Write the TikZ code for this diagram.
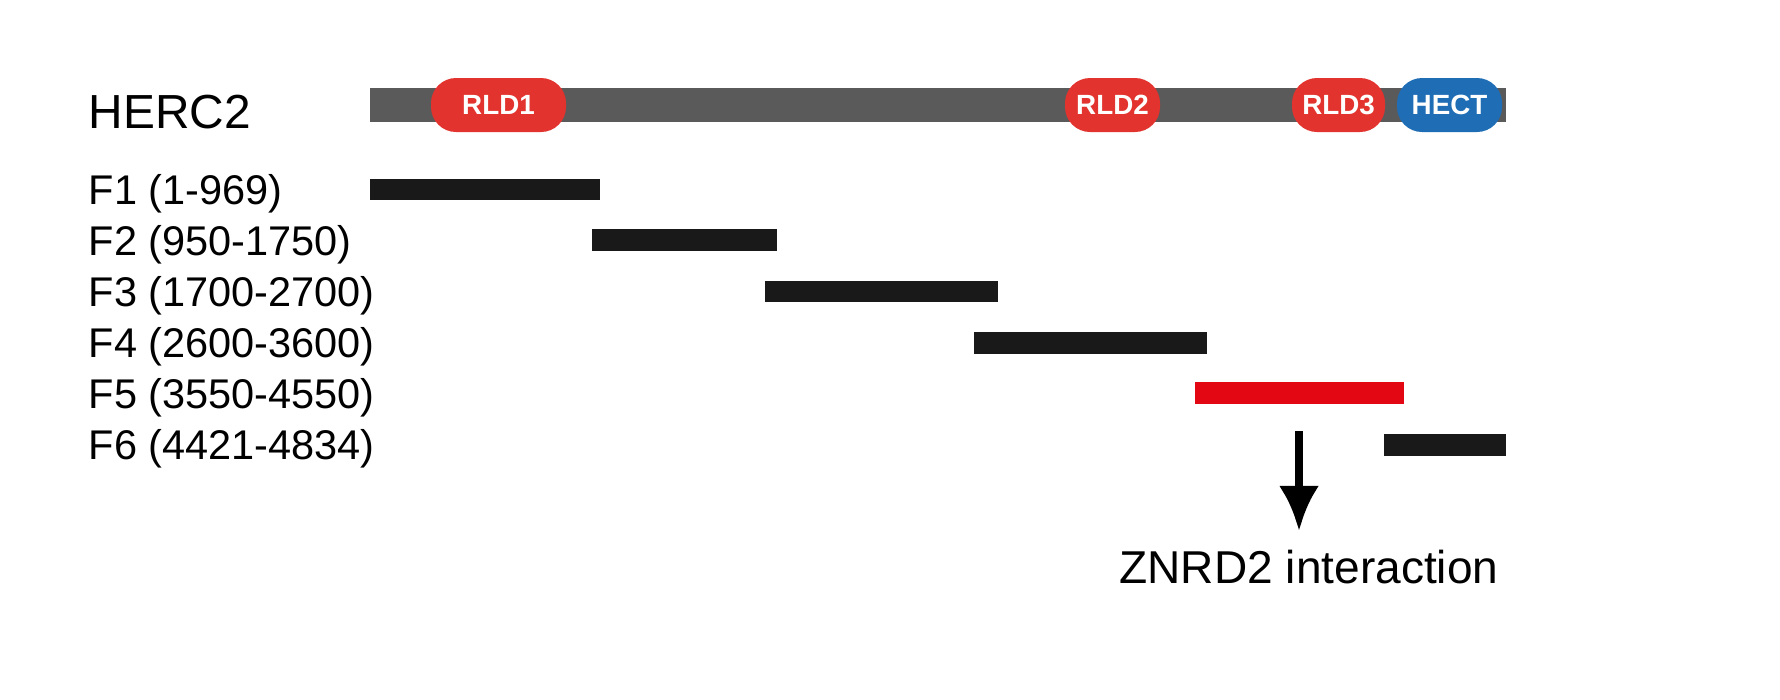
\documentclass[tikz,border=0pt]{standalone}
\usepackage{fontspec}
\usetikzlibrary{arrows.meta}
\setmainfont{Liberation Sans}
\definecolor{pillred}{HTML}{E2332E}
\definecolor{pillblue}{HTML}{1F6DB5}
\definecolor{barred}{HTML}{E30613}
\definecolor{bargray}{HTML}{5A5A5A}
\begin{document}
\begin{tikzpicture}[x=0.01cm,y=-0.01cm,
  pill/.style={rounded corners=0.25cm,text=white,font=\fontsize{7.9pt}{9pt}\selectfont\bfseries,inner sep=0pt},
  frag/.style={fill=black!90},
  lab/.style={anchor=west,font=\fontsize{11.8pt}{14pt}\selectfont,inner sep=0pt}]
\useasboundingbox (0,0) rectangle (1780,699);
\fill[bargray] (370,88) rectangle (1506,122);
\fill[pillred,rounded corners=0.25cm] (431,78) rectangle (566,132);
\node[pill] (rld1) at (498.5,105) {RLD1};
\fill[pillred,rounded corners=0.25cm] (1065,78) rectangle (1160,132);
\node[pill] (rld2) at (1112.5,105) {RLD2};
\fill[pillred,rounded corners=0.25cm] (1292,78) rectangle (1385,132);
\node[pill] (rld3) at (1338.5,105) {RLD3};
\fill[pillblue,rounded corners=0.25cm] (1397,78) rectangle (1502,132);
\node[pill] (hect) at (1449.5,105) {HECT};
\node[lab,font=\fontsize{13.6pt}{16pt}\selectfont] (herc) at (88,112) {HERC2};
\node[lab] (l1) at (88,194) {F1 (1-969)};
\node[lab] (l2) at (88,245) {F2 (950-1750)};
\node[lab] (l3) at (88,296) {F3 (1700-2700)};
\node[lab] (l4) at (88,347) {F4 (2600-3600)};
\node[lab] (l5) at (88,398) {F5 (3550-4550)};
\node[lab] (l6) at (88,449) {F6 (4421-4834)};
\fill[frag] (370,179) rectangle (600,200);
\fill[frag] (592,229) rectangle (777,251);
\fill[frag] (765,281) rectangle (998,302);
\fill[frag] (974,332) rectangle (1207,354);
\fill[barred] (1195,382) rectangle (1404,404);
\fill[frag] (1384,434) rectangle (1506,456);
\coordinate (a0) at (1299,431);
\coordinate (a1) at (1299,531);
\node[font=\fontsize{13.1pt}{16pt}\selectfont,inner sep=0pt] (zn) at (1309,567) {ZNRD2 interaction};
\draw[line width=0.8mm,-{Latex[length=4.5mm,width=4mm]}] (a0) -- (a1);
\end{tikzpicture}
\end{document}
